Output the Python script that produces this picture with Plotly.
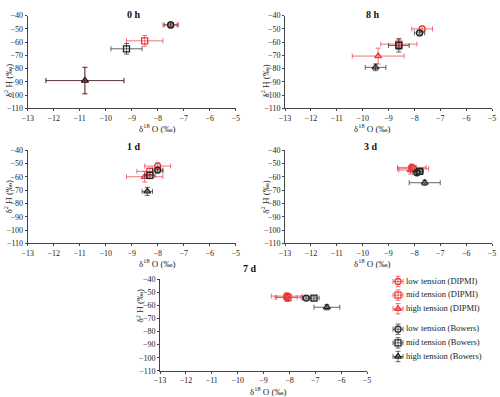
import plotly.graph_objects as go

# panel order: 0 h, 8 h, 1 d, 3 d, 7 d
panels = ['0 h', '8 h', '1 d', '3 d', '7 d']

# DIPMI
low_dipmi_x = [-7.5, -7.7, -8.0, -8.1, -8.1]
low_dipmi_y = [-47, -50, -52, -53, -53]
low_dipmi_xerr = [0.3, 0.4, 0.5, 0.55, 0.6]
low_dipmi_yerr = [1.5, 2, 2.5, 2.5, 2.5]

mid_dipmi_x = [-8.5, -8.6, -8.3, -8.05, -8.05]
mid_dipmi_y = [-59, -61.5, -56, -54, -54]
mid_dipmi_xerr = [0.7, 0.7, 0.5, 0.6, 0.5]
mid_dipmi_yerr = [4, 4, 2.5, 2, 3]

high_dipmi_x = [-10.8, -9.4, -8.5, -8.15, -8.1]
high_dipmi_y = [-89, -70.5, -60, -55, -54]
high_dipmi_xerr = [1.5, 1.0, 0.7, 0.45, 0.4]
high_dipmi_yerr = [10, 6, 4, 3, 3]

# Bowers
low_bowers_x = [-7.5, -7.8, -8.0, -7.9, -7.35]
low_bowers_y = [-47, -53, -55, -57, -54.5]
low_bowers_xerr = [0.25, 0.2, 0.2, 0.15, 0.15]
low_bowers_yerr = [1.5, 1.5, 2, 1.5, 1.5]

mid_bowers_x = [-9.2, -8.6, -8.3, -7.8, -7.05]
mid_bowers_y = [-65, -62.5, -59, -56, -54.5]
mid_bowers_xerr = [0.6, 0.4, 0.2, 0.15, 0.2]
mid_bowers_yerr = [4, 5, 2.5, 1.5, 1.5]

high_bowers_x = [-10.8, -9.5, -8.4, -7.6, -6.55]
high_bowers_y = [-89, -79, -71, -64.5, -61.5]
high_bowers_xerr = [1.5, 0.4, 0.2, 0.6, 0.5]
high_bowers_yerr = [10, 2.5, 3, 2, 2]

RED = '#e8383d'
RED_BAR = 'rgba(232,56,61,0.7)'
BLACK = '#222222'
BLACK_BAR = 'rgba(40,40,40,0.7)'
FONT = 'Liberation Serif'
W, H = 500, 397

series = [
    ('low tension (DIPMI)', low_dipmi_x, low_dipmi_y, low_dipmi_xerr, low_dipmi_yerr, 'circle-open', RED, RED_BAR),
    ('mid tension (DIPMI)', mid_dipmi_x, mid_dipmi_y, mid_dipmi_xerr, mid_dipmi_yerr, 'square-open', RED, RED_BAR),
    ('high tension (DIPMI)', high_dipmi_x, high_dipmi_y, high_dipmi_xerr, high_dipmi_yerr, 'triangle-up-open', RED, RED_BAR),
    ('low tension (Bowers)', low_bowers_x, low_bowers_y, low_bowers_xerr, low_bowers_yerr, 'circle-open', BLACK, BLACK_BAR),
    ('mid tension (Bowers)', mid_bowers_x, mid_bowers_y, mid_bowers_xerr, mid_bowers_yerr, 'square-open', BLACK, BLACK_BAR),
    ('high tension (Bowers)', high_bowers_x, high_bowers_y, high_bowers_xerr, high_bowers_yerr, 'triangle-up-open', BLACK, BLACK_BAR),
]

# axes domains (paper coords) for each panel
x_domains = [[0.0554, 0.4714], [0.57, 0.984], [0.0554, 0.4714], [0.57, 0.984], [0.32, 0.734]]
y_domains = [[0.727, 0.9605], [0.727, 0.9605], [0.387, 0.622], [0.387, 0.622], [0.066, 0.297]]
title_pos = [(0.25, 0.982), (0.763, 0.982), (0.25, 0.632), (0.76, 0.632), (0.5, 0.305)]

fig = go.Figure()

for i in range(len(panels)):
    xa = 'x' if i == 0 else f'x{i+1}'
    ya = 'y' if i == 0 else f'y{i+1}'
    for name, xs, ys, xe, ye, sym, col, barcol in series:
        fig.add_scatter(
            x=[xs[i]], y=[ys[i]],
            xaxis=xa, yaxis=ya,
            mode='markers',
            name=name,
            showlegend=False,
            marker=dict(symbol=sym, color=col, size=6, line=dict(width=1.3, color=col)),
            error_x=dict(type='data', array=[xe[i]], color=barcol, thickness=1, width=2.5),
            error_y=dict(type='data', array=[ye[i]], color=barcol, thickness=1, width=2.5),
        )

# legend drawn on its own hidden axes (key with error bars, like the original)
for k, (name, xs, ys, xe, ye, sym, col, barcol) in enumerate(series):
    row = k + (0.5 if k >= 3 else 0)
    fig.add_scatter(
        x=[0], y=[row], xaxis='x6', yaxis='y6', mode='markers', showlegend=False,
        marker=dict(symbol=sym, color=col, size=6, line=dict(width=1.3, color=col)),
        error_x=dict(type='data', array=[0.5], color=barcol, thickness=1, width=2.5),
        error_y=dict(type='data', array=[0.38], color=barcol, thickness=1, width=2.5),
        cliponaxis=False, hoverinfo='skip',
    )
    fig.add_scatter(
        x=[0.8], y=[row], xaxis='x6', yaxis='y6', mode='text', showlegend=False,
        text=[name], textposition='middle right',
        textfont=dict(family=FONT, size=8.5, color='#222'),
        cliponaxis=False, hoverinfo='skip',
    )

axis_common = dict(
    showgrid=False, zeroline=False, showline=True, linecolor='#444', linewidth=1,
    ticks='outside', ticklen=2, tickcolor='#444', automargin=False,
    tickfont=dict(family=FONT, size=8, color='#222'),
)

layout = dict(
    width=W, height=H,
    margin=dict(l=0, r=0, t=0, b=0),
    paper_bgcolor='white', plot_bgcolor='white',
    font=dict(family=FONT, size=9, color='#222'),
    showlegend=False,
    xaxis6=dict(domain=[0.776, 0.816], range=[-1, 1], visible=False, anchor='y6'),
    yaxis6=dict(domain=[0.078, 0.315], range=[6.2, -0.7], visible=False, anchor='x6'),
)

for i in range(len(panels)):
    sfx = '' if i == 0 else str(i + 1)
    layout['xaxis' + sfx] = dict(
        axis_common, domain=x_domains[i], range=[-13, -5], dtick=1, anchor='y' + sfx,
    )
    layout['yaxis' + sfx] = dict(
        axis_common, domain=y_domains[i], range=[-110, -40], dtick=10, anchor='x' + sfx,
    )

fig.update_layout(**layout)

for i, t in enumerate(panels):
    fig.add_annotation(
        x=title_pos[i][0], y=title_pos[i][1], xref='paper', yref='paper',
        text=f'<b>{t}</b>', showarrow=False,
        font=dict(family=FONT, size=10, color='#111'),
    )
    xd, yd = x_domains[i], y_domains[i]
    # x axis title under the tick labels
    fig.add_annotation(
        x=(xd[0] + xd[1]) / 2 + 5 / W, y=yd[0] - 12 / H, xref='paper', yref='paper',
        text='δ<sup>18</sup> O (‰)', showarrow=False, yanchor='top',
        font=dict(family=FONT, size=9, color='#222'),
    )
    # y axis title, 20 px left of the axis
    fig.add_annotation(
        x=xd[0] - 20 / W, y=(yd[0] + yd[1]) / 2, xref='paper', yref='paper',
        text='δ<sup>2</sup> H (‰)', showarrow=False, textangle=-90, xanchor='center',
        font=dict(family=FONT, size=9, color='#222'),
    )

fig.write_html(
    "out.html",
    config={'displayModeBar': False},
    post_script="document.body.style.margin='0';document.body.style.overflow='hidden';",
)
